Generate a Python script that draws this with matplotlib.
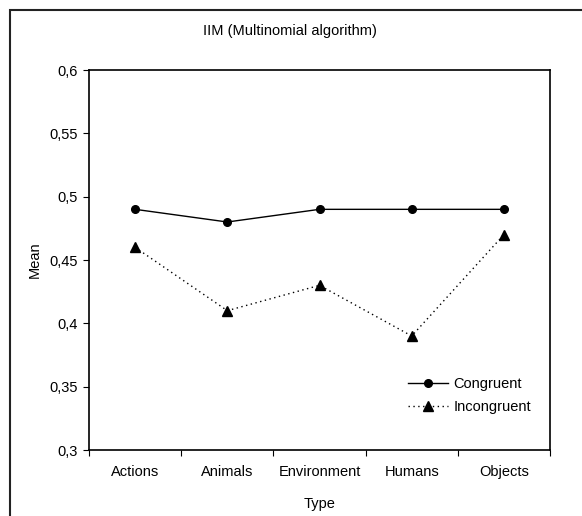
import matplotlib
matplotlib.use("Agg")
import matplotlib.pyplot as plt
from matplotlib.patches import Rectangle
import numpy as np

categories = ["Actions", "Animals", "Environment", "Humans", "Objects"]
congruent = [0.49, 0.48, 0.49, 0.49, 0.49]
incongruent = [0.46, 0.41, 0.43, 0.39, 0.47]
yticks = [0.3, 0.35, 0.4, 0.45, 0.5, 0.55, 0.6]
ytick_labels = ["0,3", "0,35", "0,4", "0,45", "0,5", "0,55", "0,6"]

plt.rcParams['font.family'] = ['Liberation Sans', 'DejaVu Sans']
FS = 10.5

W, H = 582, 516
fig = plt.figure(figsize=(W/100, H/100), dpi=100)
# outer chart border
fig.patches.append(Rectangle((10/W, -0.1), 1.2, 1 - 10/H + 0.1, transform=fig.transFigure,
                             fill=False, edgecolor='#222222', linewidth=1.5))

ax = fig.add_axes([89/W, 1 - 450/H, (550-89)/W, (450-70)/H])
x = np.arange(len(categories))
ax.plot(x, congruent, color='black', linewidth=1, marker='o', markersize=5.5,
        label='Congruent')
ax.plot(x, incongruent, color='black', linewidth=1, linestyle=(0, (1, 2.5)),
        marker='^', markersize=7, label='Incongruent')

ax.set_xlim(-0.5, len(categories) - 0.5)
ax.set_ylim(0.3, 0.6)
ax.set_yticks(yticks)
ax.set_yticklabels(ytick_labels, fontsize=FS)
ax.set_xticks(np.arange(-0.5, len(categories)), minor=False)
ax.set_xticklabels([])
ax.set_xticks(x, minor=True)
ax.set_xticklabels(categories, minor=True, fontsize=FS)
ax.tick_params(axis='x', which='major', direction='out', length=4, width=0.8)
ax.tick_params(axis='x', which='minor', length=0, pad=11)
ax.tick_params(axis='y', direction='out', length=4.3, width=0.8, pad=4)
for s in ax.spines.values():
    s.set_linewidth(1.2)
    s.set_color('black')

ax.set_xlabel("Type", fontsize=FS, labelpad=13)
ax.set_ylabel("Mean", fontsize=FS, labelpad=5.5)
fig.text(290/W, 1 - 31/H, "IIM (Multinomial algorithm)", fontsize=FS, ha='center', va='center')

ax.legend(loc='upper left', bbox_to_anchor=(408/W, 1 - 377/H), bbox_transform=fig.transFigure,
          frameon=False, fontsize=FS, borderpad=0, borderaxespad=0,
          handlelength=2.75, handletextpad=0.35, labelspacing=0.65)

fig.savefig("out.png", dpi=100)
